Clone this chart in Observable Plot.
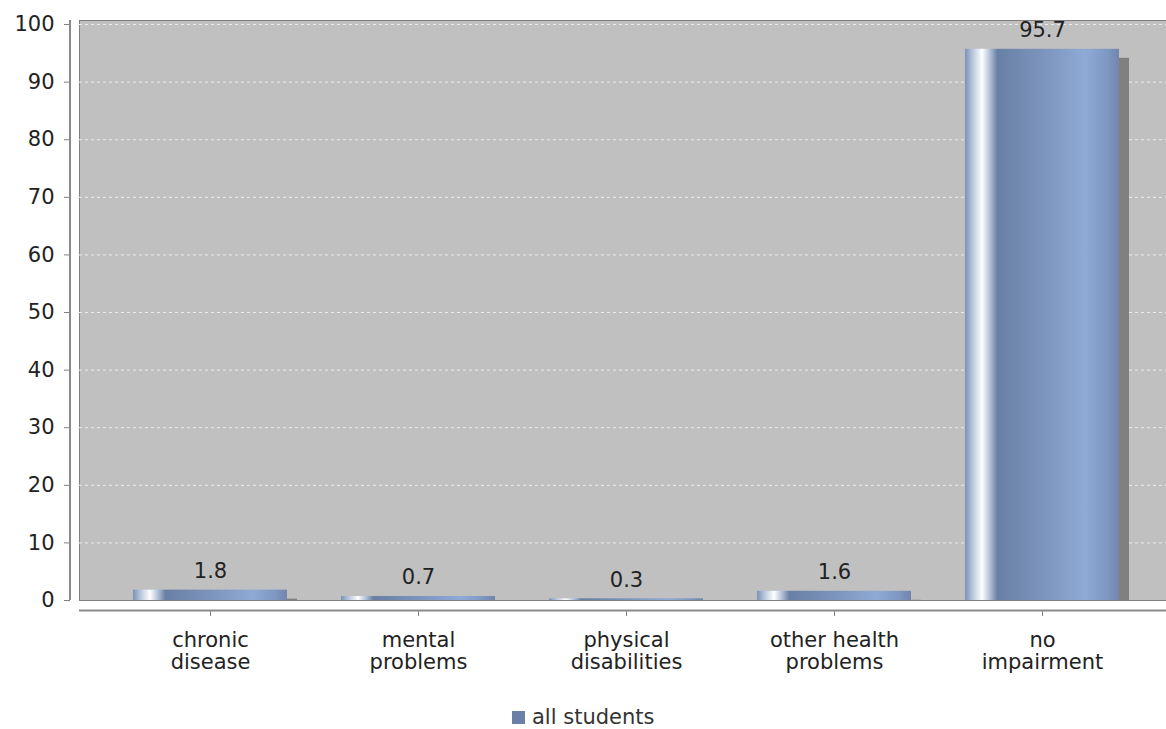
<!DOCTYPE html>
<html><head><meta charset="utf-8">
<script src="https://cdn.jsdelivr.net/npm/d3@7"></script>
<script src="https://cdn.jsdelivr.net/npm/@observablehq/plot@0.6"></script>
<style>
body{margin:0;background:#fff;font-family:"DejaVu Sans",sans-serif;}
#wrap{position:relative;width:1166px;height:729px;overflow:hidden;}
#legend{position:absolute;left:512px;top:705px;display:flex;align-items:center;font-size:21px;color:#333;white-space:nowrap;}
#legend .sw{display:inline-block;width:13px;height:13px;background:#6a80a6;margin-right:7px;}
</style></head><body>
<svg width="0" height="0" style="position:absolute">
<defs>
<linearGradient id="barGrad" x1="0" x2="1" y1="0" y2="0">
<stop offset="0" stop-color="#7a92b8"/>
<stop offset="0.05" stop-color="#b9c7dc"/>
<stop offset="0.11" stop-color="#ffffff"/>
<stop offset="0.16" stop-color="#b4c3da"/>
<stop offset="0.21" stop-color="#6880a4"/>
<stop offset="0.45" stop-color="#7990b8"/>
<stop offset="0.78" stop-color="#8eaad6"/>
<stop offset="0.92" stop-color="#7f98c2"/>
<stop offset="1" stop-color="#6f86ad"/>
</linearGradient>
</defs></svg>
<div id="wrap"><div id="chart"></div><div id="legend"><span class="sw"></span><span id="legtext"></span></div></div>
<script>
const categories = ["chronic disease", "mental problems", "physical disabilities", "other health problems", "no impairment"];
const categoryLabels = ["chronic\ndisease", "mental\nproblems", "physical\ndisabilities", "other health\nproblems", "no\nimpairment"];
const values = [1.8, 0.7, 0.3, 1.6, 95.7];
const valueLabels = ["1.8", "0.7", "0.3", "1.6", "95.7"];
const yTicks = [0, 10, 20, 30, 40, 50, 60, 70, 80, 90, 100];
const seriesName = "all students";

const data = categories.map((c, i) => ({category: c, value: values[i], label: valueLabels[i]}));
const labelMap = new Map(categories.map((c, i) => [c, categoryLabels[i]]));

const plot = Plot.plot({
  width: 1166,
  height: 700,
  marginLeft: 79,
  marginRight: 0,
  marginTop: 20,
  marginBottom: 100,
  style: {fontFamily: "DejaVu Sans", fontSize: "21px", background: "#fff", overflow: "visible"},
  x: {type: "band", domain: categories, range: [106, 1146], paddingInner: 0.26, paddingOuter: 0.13, label: null},
  y: {domain: [0, 100.7], label: null},
  marks: [
    Plot.frame({fill: "#c0c0c0", stroke: "#7f7f7f"}),
    Plot.ruleY(yTicks.filter(d => d > 0), {stroke: "#ececec", strokeDasharray: "3,3", strokeWidth: 1}),
    Plot.barY(data, {x: "category", y: "value", fill: "#808080", dx: 10, dy: 9, clip: true}),
    Plot.barY(data, {x: "category", y: "value", fill: "url(#barGrad)"}),
    Plot.text(data, {x: "category", y: "value", text: "label", lineAnchor: "bottom", dy: -12, fill: "#222"}),
    Plot.axisY({ticks: yTicks, tickSize: 6, tickPadding: 10, dx: -9, stroke: "#808080", fill: "#222", tickFormat: d => String(d), label: null}),
    Plot.axisX({tickFormat: d => labelMap.get(d), tickSize: 6, tickPadding: 14, dy: 10, stroke: "#808080", fill: "#222", lineHeight: 1.08, label: null}),
    Plot.ruleY([0], {dy: 10, stroke: "#8a8a8a", strokeWidth: 2})
  ]
});
document.getElementById("chart").appendChild(plot);
document.getElementById("legtext").textContent = seriesName;

// vertical y axis line using the plot's y scale
const ys = plot.scale("y");
d3.select(plot).append("line")
  .attr("x1", 70).attr("x2", 70)
  .attr("y1", ys.apply(100.7)).attr("y2", ys.apply(0))
  .attr("stroke", "#8a8a8a").attr("stroke-width", 2);
</script>
</body></html>
